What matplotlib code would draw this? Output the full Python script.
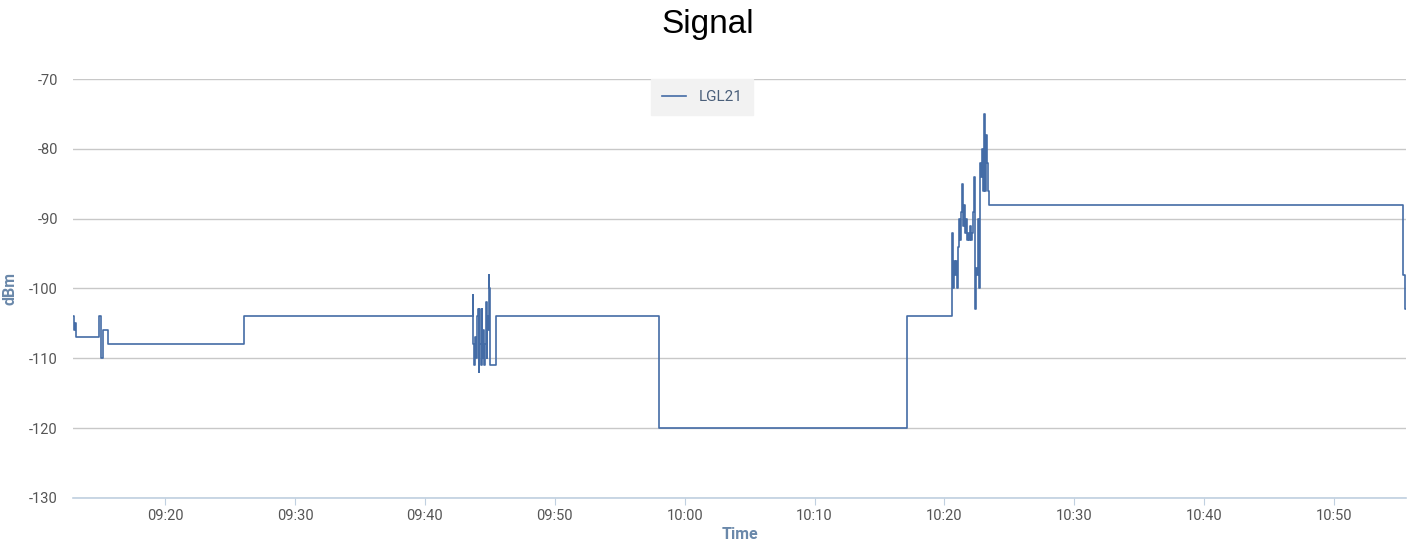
import pandas as pd
import matplotlib
matplotlib.use("Agg")
import matplotlib.pyplot as plt
import matplotlib.dates as mdates
from matplotlib import font_manager

# signal readings (dBm) for device LGL21
times = [
    "09:12:55", "09:12:59", "09:13:03", "09:13:07", "09:14:55", "09:15:02",
    "09:15:05", "09:15:13", "09:15:37", "09:26:05",
    "09:43:41", "09:43:43", "09:43:46", "09:43:49", "09:43:51", "09:43:55",
    "09:44:00", "09:44:04", "09:44:09", "09:44:11", "09:44:14", "09:44:18",
    "09:44:23", "09:44:26", "09:44:28", "09:44:32", "09:44:37", "09:44:41",
    "09:44:46", "09:44:48", "09:44:51", "09:44:55", "09:44:57", "09:45:00",
    "09:45:03", "09:45:28",
    "09:58:00", "10:17:09",
    "10:20:37", "10:20:39", "10:20:41", "10:20:46", "10:20:51", "10:20:55",
    "10:21:00", "10:21:05", "10:21:09", "10:21:14", "10:21:18", "10:21:23",
    "10:21:28", "10:21:32", "10:21:37", "10:21:42", "10:21:46", "10:21:51",
    "10:21:55", "10:22:00", "10:22:05", "10:22:09", "10:22:14", "10:22:18",
    "10:22:23", "10:22:28", "10:22:32", "10:22:37", "10:22:42", "10:22:46",
    "10:22:51", "10:22:55", "10:23:00", "10:23:05", "10:23:09", "10:23:14",
    "10:23:18", "10:23:23", "10:23:28",
    "10:55:20", "10:55:26", "10:55:32",
]
dbm = [
    -104, -106, -105, -107, -104, -105,
    -110, -106, -108, -104,
    -101, -108, -109, -111, -107, -110,
    -104, -103, -112, -103, -108, -111,
    -103, -110, -106, -111, -108, -102,
    -110, -104, -106, -98, -100, -108,
    -111, -104,
    -120, -104,
    -92, -99, -100, -96, -98, -96,
    -100, -94, -90, -93, -89, -85,
    -91, -88, -92, -90, -93, -92,
    -93, -91, -93, -92, -89, -84,
    -103, -97, -98, -90, -100, -82,
    -84, -80, -86, -75, -86, -78,
    -82, -86, -88,
    -98, -103, -103,
]
series_name = "LGL21"
yticks = [-130, -120, -110, -100, -90, -80, -70]

plt.rcParams["axes.unicode_minus"] = False

names = {f.name for f in font_manager.fontManager.ttflist}
tick_font = "Liberation Sans Narrow" if "Liberation Sans Narrow" in names else "Roboto"

t = pd.to_datetime(["2024-01-01 " + s for s in times])

fig = plt.figure(figsize=(14.16, 5.43), dpi=100)
ax = fig.add_axes([0.0516, 0.083, 0.9413, 0.7715])

ax.step(t, dbm, where="post", color="#446ca6", linewidth=1.2, label=series_name)

ax.set_ylim(-130, -70)
ax.set_yticks(yticks)
ax.set_xlim(t[0], t[-1])
ax.xaxis.set_major_locator(mdates.MinuteLocator(byminute=range(0, 60, 10)))
ax.xaxis.set_major_formatter(mdates.DateFormatter("%H:%M"))

ax.grid(axis="y", color="#c8c8c8", linewidth=1)
ax.set_axisbelow(True)
for side in ["top", "right", "left"]:
    ax.spines[side].set_visible(False)
ax.spines["bottom"].set_color("#c0d0e0")
ax.spines["bottom"].set_linewidth(1.2)
ax.tick_params(axis="y", length=0, pad=11, labelsize=10.5, labelcolor="#555555")
ax.tick_params(axis="x", length=5, color="#c0d0e0", pad=3, labelsize=10.5, labelcolor="#555555")
for lbl in ax.get_xticklabels() + ax.get_yticklabels():
    lbl.set_fontfamily(tick_font)

ax.set_ylabel("dBm", fontsize=11.5, fontweight="bold", color="#6a88aa", family=tick_font)
ax.yaxis.set_label_coords(-0.042, 0.5)
ax.set_xlabel("Time", fontsize=11.5, fontweight="bold", color="#6a88aa", family=tick_font)
ax.xaxis.set_label_coords(0.5, -0.088)
ax.xaxis.label.set_va("center")

fig.text(0.5, 0.954, "Signal", fontsize=24, ha="center", va="center", family="Liberation Sans")

leg = ax.legend(loc="center", bbox_to_anchor=(0.472, 0.957), frameon=True, fancybox=False,
                handlelength=1.6, borderpad=0.7, prop={"family": tick_font, "size": 11})
leg.get_frame().set_facecolor("#f2f2f2")
leg.get_frame().set_edgecolor("#f2f2f2")
leg.get_frame().set_alpha(1)
for txt in leg.get_texts():
    txt.set_color("#4a5f7a")

fig.savefig("out.png", dpi=100)
